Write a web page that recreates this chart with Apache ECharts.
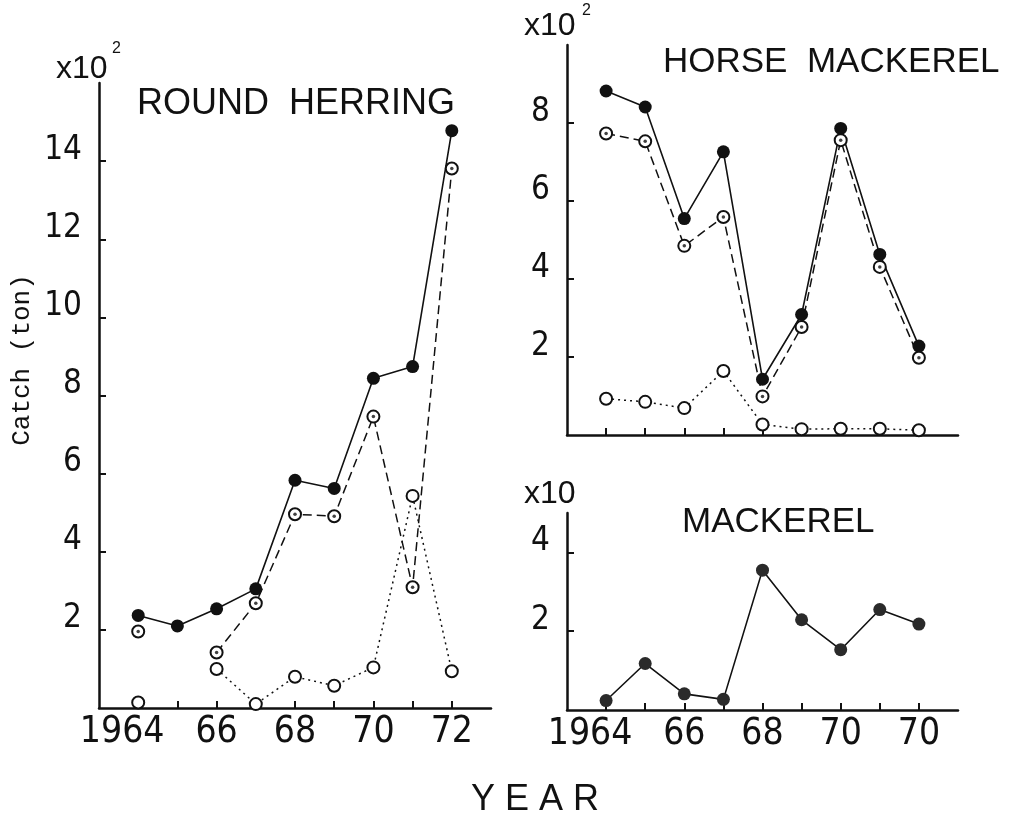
<!DOCTYPE html>
<html>
<head>
<meta charset="utf-8">
<script src="https://cdn.jsdelivr.net/npm/echarts@6/dist/echarts.min.js"></script>
<style>
  html, body { margin: 0; padding: 0; background: #fff; }
  #chart { width: 1020px; height: 818px; }
</style>
</head>
<body>
<div id="chart"></div>
<script>
// years on the x axis
var years = [1964, 1965, 1966, 1967, 1968, 1969, 1970, 1971, 1972];
var labelYears = [1964, 1966, 1968, 1970, 1972];
var leftYearText = ['1964', '66', '68', '70', '72'];
var rightYearText = ['1964', '66', '68', '70', '70'];

// round herring (x10^2 ton)
var herringTotal = [2.37, 2.10, 2.54, 3.05, 5.83, 5.62, 8.44, 8.74, 14.78];
var herringDashed = [1.96, null, 1.42, 2.68, 4.96, 4.91, 7.46, 3.09, 13.81];
var herringDotted = [0.14, null, 1.00, 0.10, 0.80, 0.57, 1.04, 5.43, 0.94];

// horse mackerel (x10^2 ton)
var horseTotal = [8.82, 8.41, 5.55, 7.26, 1.43, 3.09, 7.86, 4.63, 2.28];
var horseDashed = [7.73, 7.53, 4.85, 5.59, 0.99, 2.77, 7.56, 4.31, 1.98];
var horseDotted = [0.93, 0.85, 0.69, 1.64, 0.27, 0.15, 0.16, 0.16, 0.12];

// mackerel (x10 ton)
var mackerel = [0.24, 1.18, 0.41, 0.27, 3.55, 2.29, 1.53, 2.55, 2.18];

var herringTicks = [2, 4, 6, 8, 10, 12, 14];
var horseTicks = [2, 4, 6, 8];
var mackerelTicks = [2, 4];

var numFont = "'Liberation Sans Narrow', 'DejaVu Sans Condensed', sans-serif";
var textFont = "'Liberation Sans', 'DejaVu Sans', sans-serif";
var ink = '#111';

function pairs(vals) {
    return years.map(function (y, i) { return [y, vals[i]]; });
}
function dots(vals) {
    return pairs(vals).filter(function (p) { return p[1] != null; });
}

// ticks point into the plot: customValues ticks ignore `inside`, so flip with a negative length
function xAxis(gridIndex, texts) {
    return {
        type: 'value',
        gridIndex: gridIndex,
        min: 1963,
        max: 1973,
        interval: 1,
        axisLine: { onZero: false, lineStyle: { color: ink, width: 2.5 } },
        axisTick: { show: true, length: -7, customValues: years, lineStyle: { color: ink, width: 2 } },
        axisLabel: {
            show: !!texts,
            customValues: labelYears,
            margin: 6,
            formatter: function (v) {
                var t = texts ? texts[labelYears.indexOf(v)] : '';
                return v === 1964 ? '{f|' + t + '}' : '{n|' + t + '}';
            },
            rich: {
                f: { fontSize: 37, fontFamily: numFont, color: ink, padding: [0, 32, 0, 0] },
                n: { fontSize: 37, fontFamily: numFont, color: ink }
            }
        },
        splitLine: { show: false }
    };
}

function yAxis(gridIndex, max, ticks) {
    return {
        type: 'value',
        gridIndex: gridIndex,
        min: 0,
        max: max,
        interval: 1,
        axisLine: { show: true, lineStyle: { color: ink, width: 2.5 } },
        axisTick: { show: true, length: -7, customValues: ticks, lineStyle: { color: ink, width: 2 } },
        axisLabel: {
            customValues: ticks,
            margin: 17,
            fontSize: 33,
            fontFamily: numFont,
            color: ink,
            verticalAlign: 'bottom',
            lineHeight: 22
        },
        splitLine: { show: false }
    };
}

function solid(idx, vals, color) {
    return {
        type: 'line', xAxisIndex: idx, yAxisIndex: idx, data: pairs(vals),
        symbol: 'circle', symbolSize: 13, showAllSymbol: true, connectNulls: false,
        lineStyle: { color: ink, width: 1.6 },
        itemStyle: { color: color || ink }
    };
}
function ring(idx, vals, dash) {
    return {
        type: 'line', xAxisIndex: idx, yAxisIndex: idx, data: pairs(vals),
        symbol: 'emptyCircle', symbolSize: 12, showAllSymbol: true, connectNulls: false,
        lineStyle: { color: ink, width: 1.5, type: dash },
        itemStyle: { color: ink, borderColor: ink, borderWidth: 2.4 }
    };
}
function centre(idx, vals) {
    return {
        type: 'scatter', xAxisIndex: idx, yAxisIndex: idx, data: dots(vals),
        symbol: 'circle', symbolSize: 3.5, z: 5,
        itemStyle: { color: ink }
    };
}

function label(text, x, y, size, family, extra) {
    var s = { text: text, x: x, y: y, fill: ink, fontSize: size, fontFamily: family, verticalAlign: 'middle' };
    for (var k in extra) s[k] = extra[k];
    return { type: 'text', style: s, z: 10 };
}

var chart = echarts.init(document.getElementById('chart'));
chart.setOption({
    animation: false,
    backgroundColor: '#fff',
    grid: [
        { left: 99, top: 83, width: 392, height: 625 },
        { left: 567, top: 45, width: 391, height: 390 },
        { left: 567, top: 513, width: 391, height: 197 }
    ],
    xAxis: [xAxis(0, leftYearText), xAxis(1, null), xAxis(2, rightYearText)],
    yAxis: [yAxis(0, 16, herringTicks), yAxis(1, 10, horseTicks), yAxis(2, 5, mackerelTicks)],
    series: [
        solid(0, herringTotal),
        ring(0, herringDashed, [9, 5]),
        centre(0, herringDashed),
        ring(0, herringDotted, [2, 4]),
        solid(1, horseTotal),
        ring(1, horseDashed, [9, 5]),
        centre(1, horseDashed),
        ring(1, horseDotted, [2, 4]),
        solid(2, mackerel, '#2a2a2a')
    ],
    graphic: [
        label('ROUND  HERRING', 137, 104, 36, textFont),
        label('HORSE  MACKEREL', 663, 62, 35, textFont),
        label('MACKEREL', 682, 522, 35, textFont),
        label('x10', 56, 69, 32, textFont),
        label('2', 112, 49, 16, textFont),
        label('x10', 524, 26, 32, textFont),
        label('2', 582, 11, 16, textFont),
        label('x10', 524, 494, 32, textFont),
        label('Y E A R', 535, 800, 36, textFont, { align: 'center' }),
        {
            type: 'text', x: 22, y: 360, rotation: Math.PI / 2, z: 10,
            style: {
                text: 'Catch (ton)', fill: ink, fontSize: 26,
                fontFamily: "'Liberation Mono', 'DejaVu Sans Mono', monospace",
                align: 'center', verticalAlign: 'middle'
            }
        }
    ]
});
</script>
</body>
</html>
